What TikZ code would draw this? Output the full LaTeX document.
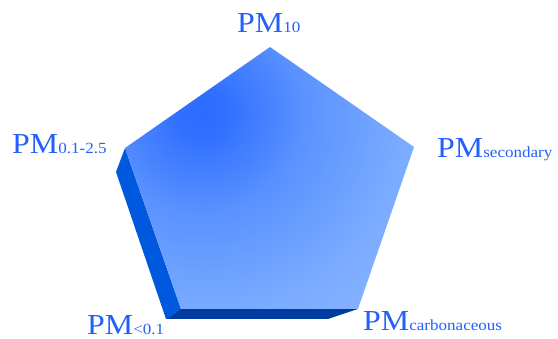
\documentclass[tikz,border=0pt]{standalone}
\usepackage{fontspec}
\newfontfamily\lblfont[FakeStretch=1.1]{Liberation Serif}
\definecolor{lblc}{RGB}{35,95,250}
\definecolor{sidec}{RGB}{0,88,222}
\definecolor{botc}{RGB}{0,60,158}
\pgfdeclareradialshading{pentshade}{\pgfpoint{0bp}{0bp}}{%
  rgb(0bp)=(0.17,0.42,1);
  rgb(2.5bp)=(0.19,0.44,1);
  rgb(10bp)=(0.35,0.57,1);
  rgb(20bp)=(0.48,0.67,1);
  rgb(28bp)=(0.54,0.71,1);
  rgb(50bp)=(0.55,0.72,1)}
\newcommand{\sbf}{\fontsize{15.5}{16}\selectfont}
\begin{document}
\begin{tikzpicture}[x=1pt,y=-1pt,
  lbl/.style={anchor=base west, inner sep=0pt, text depth=0pt, text=lblc,
    font=\lblfont\fontsize{29}{30}\selectfont}]
\useasboundingbox (0,0) rectangle (558,339);
\coordinate (T) at (270,47);
\coordinate (R) at (414,147);
\coordinate (BR) at (358,309);
\coordinate (BL) at (181,309);
\coordinate (L) at (125,148);
\coordinate (L2) at (116,172);
\coordinate (BL2) at (166,319);
\coordinate (BR2) at (328,319);
\coordinate (SC) at (202,112);
\fill[sidec] (L) -- (L2) -- (BL2) -- (BL) -- cycle;
\fill[botc] (BL) -- (BL2) -- (BR2) -- (BR) -- cycle;
\begin{scope}
  \clip (T) -- (R) -- (BR) -- (BL) -- (L) -- cycle;
  \shade[shading=pentshade] ([shift={(-250,-250)}]SC) rectangle ([shift={(250,250)}]SC);
\end{scope}
\node[lbl] (pm10) at (237,33) {PM{\sbf 10}};
\node[lbl] (pm25) at (12,154) {PM{\sbf 0.1-2.5}};
\node[lbl] (pmsec) at (437,158) {PM{\sbf secondary}};
\node[lbl] (pmcarb) at (363,331) {PM{\sbf carbonaceous}};
\node[lbl] (pm01) at (87,335) {PM{\sbf <0.1}};
\end{tikzpicture}
\end{document}
